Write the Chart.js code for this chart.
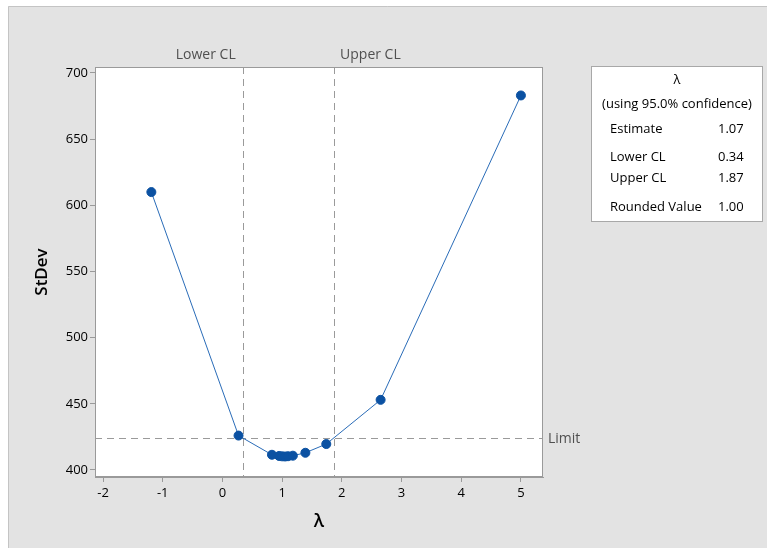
<!DOCTYPE html>
<html><head><meta charset="utf-8">
<script src="https://cdn.jsdelivr.net/npm/chart.js@4.4.0/dist/chart.umd.min.js"></script>
<style>html,body{margin:0;padding:0;background:#fff;}canvas{display:block;}</style>
</head><body>
<canvas id="c" width="767" height="548"></canvas>
<script>
const lambdaValues = [-1.19, 0.27, 0.83, 0.95, 1.0, 1.05, 1.1, 1.18, 1.39, 1.74, 2.65, 5.0];
const stdevValues = [610, 426, 411.5, 410.6, 410.3, 410.2, 410.4, 410.8, 413, 419.6, 453, 683];
const xTicks = [-2, -1, 0, 1, 2, 3, 4, 5];
const yTicks = [400, 450, 500, 550, 600, 650, 700];
const lowerCL = 0.34, upperCL = 1.87, limitValue = 424.1;
const legendTitle = ["λ", "(using 95.0% confidence)"];
const legendRows = [["Estimate", "1.07"], ["Lower CL", "0.34"], ["Upper CL", "1.87"], ["Rounded Value", "1.00"]];

const FONT = "'Open Sans', 'Noto Sans', sans-serif";

const decor = {
  id: 'decor',
  beforeDraw(chart) {
    const ctx = chart.ctx, a = chart.chartArea;
    ctx.save();
    ctx.fillStyle = '#ffffff';
    ctx.fillRect(0, 0, chart.width, chart.height);
    ctx.fillStyle = '#e3e3e3';
    ctx.fillRect(8, 6, chart.width - 8, chart.height - 6);
    ctx.strokeStyle = '#c4c4c4';
    ctx.lineWidth = 1;
    ctx.beginPath();
    ctx.moveTo(8.5, chart.height); ctx.lineTo(8.5, 6.5); ctx.lineTo(chart.width, 6.5);
    ctx.stroke();
    ctx.fillStyle = '#ffffff';
    ctx.fillRect(a.left, a.top, a.right - a.left, a.bottom - a.top);
    ctx.restore();
  },
  beforeDatasetsDraw(chart) {
    const ctx = chart.ctx, a = chart.chartArea;
    const xs = chart.scales.x, ys = chart.scales.y;
    ctx.save();
    ctx.strokeStyle = '#9a9a9a';
    ctx.lineWidth = 1;
    ctx.setLineDash([7, 5]);
    [lowerCL, upperCL].forEach(v => {
      const px = Math.round(xs.getPixelForValue(v)) + 0.5;
      ctx.beginPath(); ctx.moveTo(px, a.top); ctx.lineTo(px, a.bottom); ctx.stroke();
    });
    const py = Math.round(ys.getPixelForValue(limitValue)) + 0.5;
    ctx.beginPath(); ctx.moveTo(a.left, py); ctx.lineTo(a.right, py); ctx.stroke();
    ctx.setLineDash([]);
    ctx.fillStyle = '#505050';
    ctx.font = '14px ' + FONT;
    ctx.textBaseline = 'middle';
    ctx.textAlign = 'right';
    ctx.fillText('Lower CL', xs.getPixelForValue(lowerCL) - 7, a.top - 12);
    ctx.textAlign = 'left';
    ctx.fillText('Upper CL', xs.getPixelForValue(upperCL) + 6, a.top - 12);
    ctx.fillText('Limit', a.right + 5, py + 1);
    ctx.restore();
  },
  afterDraw(chart) {
    const ctx = chart.ctx, a = chart.chartArea;
    ctx.save();
    ctx.strokeStyle = '#9a9a9a';
    ctx.lineWidth = 1;
    ctx.strokeRect(a.left + 0.5, a.top + 0.5, a.right - a.left - 1, a.bottom - a.top - 1);
    // legend box
    const bx = 591, by = 66, bw = 172, bh = 156;
    ctx.fillStyle = '#ffffff';
    ctx.fillRect(bx, by, bw, bh);
    ctx.strokeStyle = '#a8a8a8';
    ctx.strokeRect(bx + 0.5, by + 0.5, bw - 1, bh - 1);
    ctx.fillStyle = '#000000';
    ctx.font = '13px ' + FONT;
    ctx.textBaseline = 'middle';
    ctx.textAlign = 'center';
    ctx.fillText(legendTitle[0], bx + bw / 2, 80);
    ctx.fillText(legendTitle[1], bx + bw / 2, 104);
    ctx.textAlign = 'left';
    const rowY = [129, 157, 178, 207];
    legendRows.forEach((r, i) => {
      ctx.fillText(r[0], 610, rowY[i]);
      ctx.fillText(r[1], 718, rowY[i]);
    });
    ctx.restore();
  }
};

new Chart(document.getElementById('c'), {
  type: 'scatter',
  data: {
    datasets: [{
      data: lambdaValues.map((x, i) => ({ x: x, y: stdevValues[i] })),
      showLine: true,
      borderColor: '#2a6cb8',
      borderWidth: 1,
      backgroundColor: '#0b51a2',
      pointBackgroundColor: '#0b51a2',
      pointBorderColor: '#0b51a2',
      pointRadius: 4.5,
      pointHoverRadius: 4.5,
      tension: 0
    }]
  },
  options: {
    responsive: false,
    animation: false,
    events: [],
    layout: { padding: { left: 0, top: 67, right: 224, bottom: 0 } },
    plugins: { legend: { display: false }, tooltip: { enabled: false } },
    scales: {
      x: {
        type: 'linear',
        min: -2.134, max: 5.37,
        afterBuildTicks: s => { s.ticks = xTicks.map(v => ({ value: v })); },
        afterFit: s => { s.height = 71; },
        grid: { drawOnChartArea: false, tickLength: 5, color: '#9a9a9a' },
        border: { display: true, color: '#9a9a9a' },
        ticks: { color: '#000000', font: { family: FONT, size: 13 }, padding: 3, maxRotation: 0 },
        title: { display: true, text: 'λ', color: '#000', font: { family: FONT, size: 18, weight: '600' }, padding: { top: 0, bottom: 15 } }
      },
      y: {
        type: 'linear',
        min: 394.7, max: 704.5,
        afterBuildTicks: s => { s.ticks = yTicks.map(v => ({ value: v })); },
        afterFit: s => { s.width = 95; },
        grid: { drawOnChartArea: false, tickLength: 5, color: '#9a9a9a' },
        border: { display: true, color: '#9a9a9a' },
        ticks: { color: '#000000', font: { family: FONT, size: 13 }, padding: 2 },
        title: { display: true, text: 'StDev', color: '#000', font: { family: FONT, size: 17, weight: '600' }, padding: { top: 32, bottom: 0 } }
      }
    }
  },
  plugins: [decor]
});
</script>
</body></html>
